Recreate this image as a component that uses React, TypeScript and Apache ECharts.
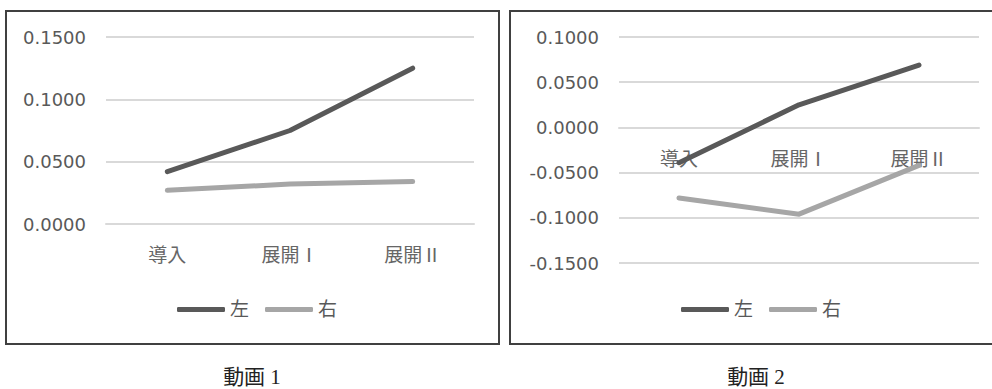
import React, { useEffect, useRef } from "react";
import * as echarts from "echarts";

// Shared categories
const categories = ["導入", "展開Ⅰ", "展開Ⅱ"];

// 動画 1
const video1Left = [0.042, 0.075, 0.125];
const video1Right = [0.027, 0.032, 0.034];

// 動画 2
const video2Left = [-0.039, 0.025, 0.069];
const video2Right = [-0.078, -0.096, -0.042];

const seriesNames = ["左", "右"];
const captions = ["動画 1", "動画 2"];

const DARK = "#595959";
const LIGHT = "#a6a6a6";
const GRID = "#d9d9d9";
const SERIF = "'Liberation Serif', 'Noto Sans CJK JP', serif";
const SANS = "'DejaVu Sans', sans-serif";

const fmt = (v: number) => (Math.abs(v) < 1e-9 ? "0.0000" : v.toFixed(4));

// The category axis sits on the zero line of its value axis; offset lifts it
// from the grid's bottom edge up to that line.
function makeX(gridIndex: number, offset: number) {
  return {
    type: "category",
    gridIndex,
    position: "bottom",
    offset,
    data: categories,
    boundaryGap: true,
    axisTick: { show: false },
    axisLine: { show: true, onZero: false, lineStyle: { color: GRID, width: 2 } },
    axisLabel: { margin: 22, fontSize: 19, color: "#666666", fontFamily: SERIF },
  };
}

function makeY(gridIndex: number, min: number, max: number) {
  return {
    type: "value",
    gridIndex,
    min,
    max,
    interval: 0.05,
    axisLine: { show: false },
    axisTick: { show: false },
    splitLine: { lineStyle: { color: GRID, width: 2 } },
    axisLabel: { margin: 20, fontSize: 18, color: DARK, fontFamily: SANS, formatter: fmt },
  };
}

function makeLine(name: string, data: number[], color: string, idx: number) {
  return {
    type: "line",
    name,
    data,
    xAxisIndex: idx,
    yAxisIndex: idx,
    color,
    symbol: "none",
    lineStyle: { width: 5, color, cap: "round", join: "round" },
  };
}

function makeLegend(left: number) {
  return {
    left,
    top: 300,
    padding: 0,
    icon: "roundRect",
    itemWidth: 48,
    itemHeight: 5,
    itemGap: 16,
    data: seriesNames,
    textStyle: { fontSize: 19, color: DARK, fontFamily: SERIF },
  };
}

export default function App() {
  const ref = useRef<HTMLDivElement>(null);

  useEffect(() => {
    if (!ref.current) return;
    const chart = echarts.init(ref.current, undefined, { renderer: "svg" });
    chart.setOption({
      animation: false,
      backgroundColor: "#ffffff",
      grid: [
        { left: 106, right: 518, top: 37, bottom: 165 },
        { left: 619, right: 13, top: 37, bottom: 126 },
      ],
      xAxis: [makeX(0, 0), makeX(1, -135)],
      yAxis: [makeY(0, 0, 0.15), makeY(1, -0.15, 0.1)],
      legend: [makeLegend(177), makeLegend(681)],
      series: [
        makeLine(seriesNames[0], video1Left, DARK, 0),
        makeLine(seriesNames[1], video1Right, LIGHT, 0),
        makeLine(seriesNames[0], video2Left, DARK, 1),
        makeLine(seriesNames[1], video2Right, LIGHT, 1),
      ],
      graphic: [
        {
          type: "rect",
          shape: { x: 6, y: 11, width: 493, height: 333 },
          style: { fill: "none", stroke: "#404040", lineWidth: 2 },
          silent: true,
        },
        {
          type: "rect",
          shape: { x: 510, y: 11, width: 500, height: 333 },
          style: { fill: "none", stroke: "#404040", lineWidth: 2 },
          silent: true,
        },
        {
          type: "text",
          x: 252,
          y: 377,
          style: {
            text: captions[0],
            fontSize: 21,
            fontFamily: SERIF,
            fill: "#222222",
            align: "center",
            verticalAlign: "middle",
          },
        },
        {
          type: "text",
          x: 756,
          y: 377,
          style: {
            text: captions[1],
            fontSize: 21,
            fontFamily: SERIF,
            fill: "#222222",
            align: "center",
            verticalAlign: "middle",
          },
        },
      ],
    });
    return () => chart.dispose();
  }, []);

  return (
    <div
      ref={ref}
      style={{ position: "fixed", left: 0, top: 0, width: 992, height: 389, background: "#fff" }}
    />
  );
}
